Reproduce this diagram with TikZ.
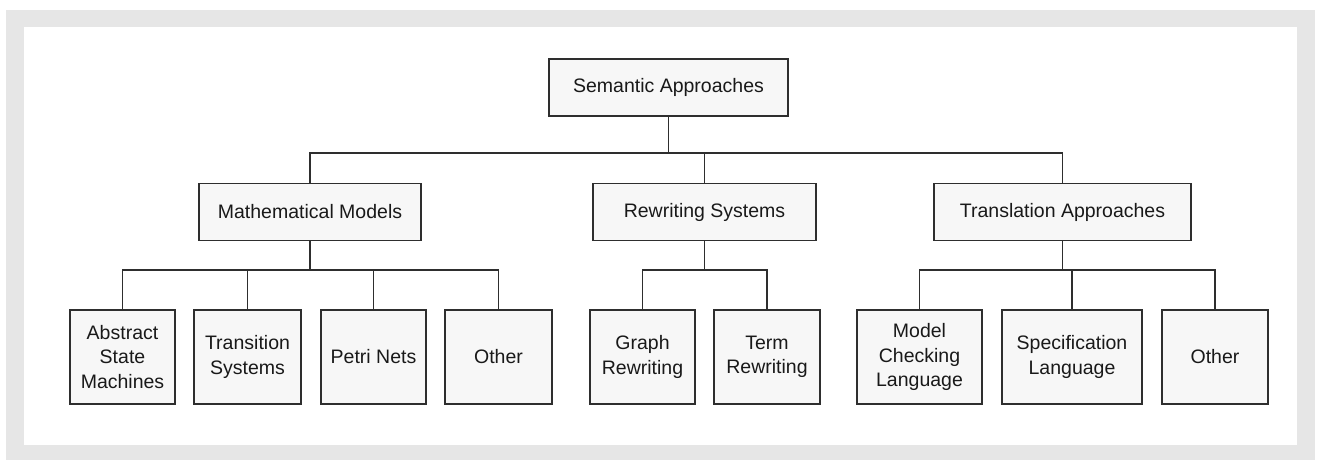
\documentclass[tikz,border=0pt]{standalone}
\usepackage{fontspec}
\setmainfont{Liberation Sans}
\begin{document}
\definecolor{framegray}{HTML}{E6E6E6}
\definecolor{boxfill}{HTML}{F7F7F7}
\definecolor{inkgray}{HTML}{2E2E2E}
\begin{tikzpicture}[x=1pt,y=-1pt,
  box/.style={draw=inkgray, fill=boxfill, line width=1.8pt, inner sep=0pt, outer sep=0pt,
    align=center, text=black!90, font=\fontsize{19.5}{24.5}\selectfont},
  topbox/.style={box, minimum height=57pt},
  leafbox/.style={box, minimum height=94pt},
  link/.style={draw=inkgray, line width=1.8pt}]
\useasboundingbox (0,0) rectangle (1319,460);
% frame
\fill[framegray] (6,10) rectangle (1315,460);
\fill[white] (24,27) rectangle (1297,445);
% root
\node[topbox, minimum width=239pt] (sem) at (668.5,87.5) {Semantic Approaches};
% second level
\node[topbox, minimum width=222pt] (mm) at (310,212) {Mathematical Models};
\node[topbox, minimum width=223pt] (rs) at (704.5,212) {Rewriting Systems};
\node[topbox, minimum width=257pt] (ta) at (1062.5,212) {Translation Approaches};
% leaves
\node[leafbox, minimum width=105pt] (asm) at (122.5,357) {Abstract\\State\\Machines};
\node[leafbox, minimum width=107pt] (ts) at (247.5,357) {Transition\\Systems};
\node[leafbox, minimum width=105pt] (pn) at (373.5,357) {Petri Nets};
\node[leafbox, minimum width=107pt] (oa) at (498.5,357) {Other};
\node[leafbox, minimum width=105pt] (gr) at (642.5,357) {Graph\\Rewriting};
\node[leafbox, minimum width=106pt] (tr) at (767,357) {Term\\Rewriting};
\node[leafbox, minimum width=125pt] (mc) at (919.5,357) {Model\\Checking\\Language};
\node[leafbox, minimum width=140pt] (sl) at (1072,357) {Specification\\Language};
\node[leafbox, minimum width=106pt] (ob) at (1215,357) {Other};
% bus heights
\coordinate (busA) at (0,153);
\coordinate (busB) at (0,270);
% root to second level
\draw[link] (sem.south) -- (sem.south |- busA);
\draw[link] (mm.north) |- (ta.north |- busA) -- (ta.north);
\draw[link] (rs.north) -- (rs.north |- busA);
% mathematical models
\draw[link] (mm.south) -- (mm.south |- busB);
\draw[link] (asm.north) |- (oa.north |- busB) -- (oa.north);
\draw[link] (ts.north) -- (ts.north |- busB);
\draw[link] (pn.north) -- (pn.north |- busB);
% rewriting systems
\draw[link] (rs.south) -- (rs.south |- busB);
\draw[link] (gr.north) |- (tr.north |- busB) -- (tr.north);
% translation approaches
\draw[link] (ta.south) -- (ta.south |- busB);
\draw[link] (mc.north) |- (ob.north |- busB) -- (ob.north);
\draw[link] (sl.north) -- (sl.north |- busB);
\end{tikzpicture}
\end{document}
